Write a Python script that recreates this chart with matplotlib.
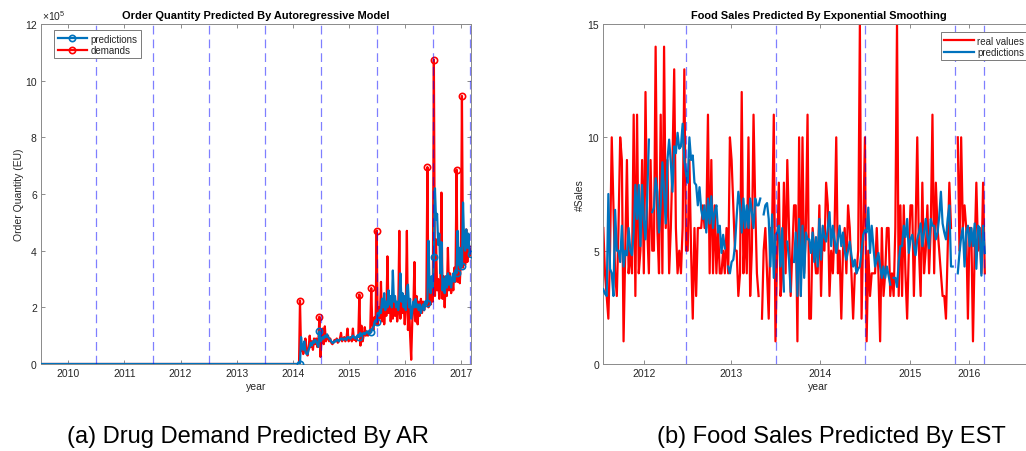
import matplotlib
matplotlib.use('Agg')
import matplotlib.pyplot as plt
import numpy as np

plt.rcParams['font.family'] = 'Liberation Sans'
plt.rcParams['mathtext.fontset'] = 'custom'
plt.rcParams['mathtext.rm'] = 'Liberation Sans'

# ---- drug demand (AR model), weekly values in units of 1e5 EU ----
ar_first_week = 2014.127
ar_demands = [
    2.24, 0.45, 0.6, 0.35, 0.5, 0.9, 0.5, 0.3, 0.6, 1.0,
    0.6, 0.8, 0.5, 0.9, 0.7, 0.9, 0.6, 0.8, 1.67, 0.25,
    0.9, 1.25, 0.7, 1.33, 0.8, 0.9, 1.0, 0.8, 0.9, 0.75,
    0.7, 0.75, 0.85, 0.8, 0.9, 0.75, 0.8, 0.9, 1.1, 0.8,
    0.9, 0.95, 0.8, 0.9, 1.25, 0.8, 0.9, 0.95, 0.8, 1.25,
    0.85, 0.9, 0.8, 0.95, 0.95, 2.45, 0.65, 1.35, 0.8, 1.0,
    1.3, 1.0, 1.15, 1.0, 1.1, 1.1, 2.68, 1.4, 1.2, 1.65,
    1.4, 4.71, 1.4, 2.0, 1.6, 2.9, 1.5, 2.3, 1.4, 2.0,
    1.7, 3.8, 1.8, 2.4, 1.5, 2.1, 1.6, 2.3, 1.7, 2.2,
    1.5, 1.9, 4.7, 1.6, 2.5, 1.8, 2.2, 1.4, 2.0, 4.7,
    1.2, 2.2, 1.0, 0.15, 1.5, 2.0, 3.6, 1.5, 2.4, 1.4,
    2.2, 1.7, 2.3, 1.8, 2.2, 1.9, 2.1, 2.1, 6.95, 2.0,
    2.6, 2.1, 2.5, 2.2, 10.74, 2.4, 4.4, 2.6, 3.0, 2.3,
    2.8, 6.05, 2.3, 3.1, 2.0, 3.0, 2.4, 4.1, 2.6, 3.2,
    2.5, 3.0, 2.6, 3.4, 2.9, 6.86, 2.9, 3.8, 2.85, 3.6,
    9.46, 3.4, 4.7, 3.5, 4.75, 3.6, 4.2, 3.8, 4.05,
]
ar_predictions = [
    0.0, 0.95, 0.6, 0.5, 0.8, 0.45, 0.35, 0.35, 0.5, 0.6,
    0.75, 0.65, 0.8, 0.75, 0.85, 0.8, 0.7, 0.6, 1.15, 0.8,
    0.85, 0.95, 0.9, 1.0, 0.95, 1.05, 0.95, 0.9, 0.85, 0.8,
    0.75, 0.75, 0.8, 0.8, 0.85, 0.85, 0.8, 0.85, 0.9, 0.9,
    0.85, 0.9, 0.9, 0.85, 0.95, 0.95, 0.9, 0.9, 0.95, 1.0,
    0.95, 0.9, 0.95, 0.95, 1.0, 0.95, 1.1, 1.0, 1.05, 1.1,
    1.05, 1.1, 1.15, 1.1, 1.05, 1.1, 1.12, 1.25, 1.3, 1.45,
    1.5, 1.5, 1.8, 1.7, 1.9, 1.8, 2.3, 2.0, 2.5, 1.9,
    2.2, 2.0, 2.6, 2.1, 2.4, 2.0, 3.3, 2.2, 2.4, 2.0,
    2.2, 1.9, 2.3, 3.2, 2.2, 2.5, 2.0, 2.4, 1.9, 2.7,
    2.8, 2.0, 2.3, 1.6, 1.9, 2.2, 2.0, 2.3, 2.0, 2.1,
    1.9, 2.1, 1.8, 2.0, 2.1, 1.9, 2.2, 2.1, 2.17, 4.35,
    2.8, 2.5, 3.1, 2.7, 3.76, 6.2, 5.1, 5.3, 4.2, 4.6,
    3.2, 4.3, 2.6, 3.0, 2.5, 3.1, 2.7, 3.2, 2.8, 3.1,
    2.7, 3.0, 3.2, 2.9, 3.3, 3.2, 4.7, 3.5, 4.1, 3.4,
    3.45, 5.7, 4.3, 4.0, 4.75, 4.1, 4.6, 4.0, 3.9,
]
# weeks flagged with a circle on both curves
ar_flagged = [0, 18, 55, 66, 71, 118, 124, 145, 150, 158]
# no orders before the first recorded week
ar_history_years = [2009.4, 2014.11]
ar_split_years = [2010.5, 2011.5, 2012.5, 2013.5, 2014.5, 2015.5, 2016.5, 2017.16]

# ---- food sales (exponential smoothing), weekly counts ----
est_real = [
    6, 4, 3, 2, 5, 10, 7, 4, 3, 6,
    10, 9, 1, 5, 9, 4, 5, 4, 11, 3,
    11, 4, 5, 9, 4, 12, 6, 4, 9, 5,
    5, 14, 6, 4, 11, 4, 14, 6, 9, 4,
    6, 9, 13, 6, 4, 5, 4, 6, 13, 5,
    5, 9, 5, 2, 6, 3, 6, 6, 6, 7,
    6, 6, 11, 4, 9, 4, 7, 4, 6, 4,
    4, 5, 4, 6, 4, 10, 9, 7, 5, 5,
    3, 4, 12, 4, 6, 4, 10, 3, 5, 11,
    7, 4, 3, np.nan, 2, 5, 6, 4, 2, 6,
    6, 11, 1, 5, 8, 3, 4, 8, 4, 9,
    6, 3, 5, 7, 7, 1, 10, 3, 10, 4,
    6, 11, 2, 2, 6, 5, 4, 4, 7, 3,
    6, 5, 8, 7, 3, 5, 4, 6, 10, 4,
    5, 2, 5, 6, 4, 7, 6, 4, 2, 4,
    4, 5, 15, 2, 6, 10, 1, 5, 3, 4,
    4, 4, 6, 4, 1, 6, 3, 4, 6, 6,
    3, 4, 3, 6, 15, 3, 7, 3, 7, 4,
    2, 5, 7, 7, 3, 6, 10, 5, 3, 8,
    4, 5, 7, 4, 6, 11, 4, 8, 6, 5,
    4, 3, 3, 2, 5, 8, 6, np.nan, np.nan, np.nan,
    10, 5, 10, 6, 7, 6, 2, 6, 6, 1,
    5, 8, 5, 6, 4, 8, 4,
]
est_pred = [
    3.3, 3.1, 3.0, 7.5, 4.2, 4.0, 3.0, 6.8, 5.0, 5.0,
    4.5, 6.1, 4.3, 5.0, 4.8, 6.0, 5.0, 4.8, 5.8, 7.9,
    6.4, 7.9, 5.2, 7.9, 6.4, 5.5, 7.3, 9.9, np.nan, 6.7,
    6.9, 8.2, 7.6, 5.8, 7.0, 8.9, 7.6, 6.2, 9.0, 9.9,
    8.9, 7.6, 9.6, 9.3, 10.2, 9.5, 9.6, 10.6, 9.0, 8.4,
    8.0, 10.0, 9.0, 9.2, 8.0, 7.9, 7.0, 7.8, 6.8, 6.4,
    7.0, 5.8, 7.3, 6.2, 7.4, 6.0, 6.7, 7.0, 5.8, 6.1,
    4.9, 5.7, 5.1, np.nan, 4.3, 4.0, 4.5, 4.6, 5.2, 6.5,
    7.6, 7.0, 5.8, 7.3, 6.0, 7.0, 6.0, 7.3, 6.7, 6.0,
    7.3, 7.0, 7.0, 7.3, np.nan, 6.6, 7.0, 7.1, 6.4, 4.3,
    6.6, 3.8, 5.7, 5.8, 6.1, 4.3, 6.0, 3.2, np.nan, 5.4,
    4.6, 3.2, np.nan, 4.5, 5.8, 3.0, 6.4, 3.0, 6.1, 3.8,
    5.8, 5.5, 5.5, 4.9, 5.8, 4.5, 5.6, 4.3, 6.4, 4.6,
    6.1, 5.6, 5.4, 6.0, 6.7, 5.2, 6.1, 5.5, 4.9, 5.5,
    6.1, 5.2, 5.8, 5.0, 4.6, 5.0, 5.4, 4.8, 4.3, 4.6,
    4.0, 4.2, 4.3, 5.0, 5.7, 5.9, 5.8, 6.9, 4.9, 6.1,
    5.2, 4.3, 4.6, 4.9, 4.3, 3.8, 4.3, 3.8, 4.3, 3.9,
    3.5, np.nan, 3.8, 3.8, 3.4, 4.5, 5.2, 5.2, 6.1, 5.6,
    6.4, 4.9, 5.5, 5.7, 5.2, 4.8, 5.5, 5.8, 6.2, 5.2,
    5.8, 6.4, 5.6, 5.1, 6.4, 6.1, 6.1, 5.5, 5.8, 6.5,
    7.6, 6.2, 5.8, 5.5, 6.4, 7.0, 4.3, 4.3, np.nan, np.nan,
    4.0, 4.9, 5.6, 6.0, 4.3, 5.8, 6.1, 5.2, 6.0, 5.2,
    6.2, 4.2, 6.1, 6.0, 3.9, 6.1, 4.9,
]
# the sales index is in weeks with missing periods dropped, so years are uneven
est_year_weeks = [24.3, 75.5, 128.4, 181.7, 216.8]
est_year_labels = ['2012', '2013', '2014', '2015', '2016']
est_split_weeks = [49.2, 102.1, 155.2, 208.3, 225.7]

MATLAB_BLUE = '#0072BD'
TEXT = '#262626'
SPLIT_STYLE = dict(color='blue', alpha=0.5, lw=0.9, ls=(0, (7, 4)), zorder=4)


def style_axes(ax):
    ax.tick_params(direction='in', top=True, right=True, length=3, width=0.6,
                   color='#7a7a7a', labelsize=7.5, labelcolor=TEXT, pad=3)
    for sp in ax.spines.values():
        sp.set_color('#8a8a8a')
        sp.set_linewidth(0.7)


def legend(ax, anchor):
    leg = ax.legend(loc='upper left', bbox_to_anchor=anchor, borderaxespad=0,
                    fontsize=7, handlelength=3.0, handletextpad=0.4,
                    labelspacing=0.15, borderpad=0.35, fancybox=False,
                    framealpha=1, edgecolor='#7a7a7a')
    leg.get_frame().set_linewidth(0.7)
    for t in leg.get_texts():
        t.set_color(TEXT)


fig = plt.figure(figsize=(10.26, 4.52), dpi=100)

# (a) AR
ax1 = fig.add_axes([41 / 1026, 87 / 452, 430 / 1026, 340 / 452])
n = len(ar_demands)
years = np.concatenate([ar_history_years, ar_first_week + np.arange(n) / 52])
pred = np.concatenate([[0, 0], ar_predictions])
dem = np.concatenate([[0, 0], ar_demands])
marks = [k + 2 for k in ar_flagged]
ax1.plot(years, pred, color=MATLAB_BLUE, lw=1.6, marker='o', ms=4.5, mfc='none',
         mew=1.2, markevery=marks, label='predictions', zorder=3)
ax1.plot(years, dem, color='red', lw=1.6, marker='o', ms=4.5, mfc='none',
         mew=1.2, markevery=marks, label='demands', zorder=2)
for yr in ar_split_years:
    ax1.axvline(yr, **SPLIT_STYLE)
ax1.set_xlim(2009.514, 2017.173)
ax1.set_ylim(0, 12)
ax1.set_xticks(range(2010, 2018))
ax1.set_yticks(range(0, 13, 2))
style_axes(ax1)
ax1.set_title('Order Quantity Predicted By Autoregressive Model', fontsize=7.9,
              fontweight='bold', pad=4)
ax1.set_xlabel('year', fontsize=7.5, color=TEXT, labelpad=2)
ax1.set_ylabel('Order Quantity (EU)', fontsize=7.5, color=TEXT, labelpad=1)
ax1.text(0.003, 1.006, r'$\times10^{5}$', transform=ax1.transAxes, fontsize=7.5,
         ha='left', va='bottom', color=TEXT)
legend(ax1, (0.031, 0.982))

# (b) EST
ax2 = fig.add_axes([603.3 / 1026, 87 / 452, (1034 - 603.3) / 1026, 340 / 452])
weeks = np.arange(len(est_real))
ax2.plot(weeks, est_real, color='red', lw=1.6, label='real values', zorder=2)
ax2.plot(weeks, est_pred, color=MATLAB_BLUE, lw=1.6, label='predictions', zorder=3)
for w in est_split_weeks:
    ax2.axvline(w, **SPLIT_STYLE)
ax2.set_xlim(0, (1034 - 603.3) / 1.688)
ax2.set_ylim(0, 15)
ax2.set_xticks(est_year_weeks)
ax2.set_xticklabels(est_year_labels)
ax2.set_yticks([0, 5, 10, 15])
style_axes(ax2)
ax2.set_title('Food Sales Predicted By Exponential Smoothing', fontsize=7.9,
              fontweight='bold', pad=4)
ax2.set_xlabel('year', fontsize=7.5, color=TEXT, labelpad=2)
ax2.set_ylabel('#Sales', fontsize=7.5, color=TEXT, labelpad=2)
legend(ax2, (0.784, 0.976))

fig.text(248 / 1026, 1 - 437 / 452, '(a) Drug Demand Predicted By AR',
         ha='center', va='center', fontsize=17)
fig.text(831 / 1026, 1 - 437 / 452, '(b) Food Sales Predicted By EST',
         ha='center', va='center', fontsize=17)

fig.savefig('out.png', dpi=100)
